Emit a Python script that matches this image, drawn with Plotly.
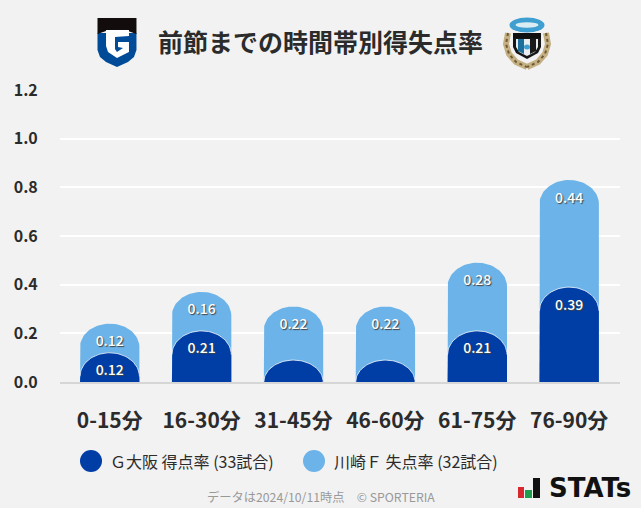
import numpy as np
import plotly.graph_objects as go

W, H = 641, 508
categories = ["0-15分", "16-30分", "31-45分", "46-60分", "61-75分", "76-90分"]
gamba_scored = [0.12, 0.21, 0, 0, 0.21, 0.39]
kawasaki_conceded = [0.12, 0.16, 0.22, 0.22, 0.28, 0.44]
y_ticks = [0.0, 0.2, 0.4, 0.6, 0.8, 1.0, 1.2]
series_names = ["Ｇ大阪 得点率 (33試合)", "川崎Ｆ 失点率 (32試合)"]
title = "前節までの時間帯別得失点率"
footnote = "データは2024/10/11時点　© SPORTERIA"

DARK, LIGHT = "#003da5", "#6bb3e8"
INK = "#2b2b2b"
FONT = "Noto Sans CJK JP"
BAR_W, CAP_H, MIN_H = 0.646, 0.097, 0.09
LABEL_DROP = 0.078


def bar_outline(center, top):
    t = np.linspace(np.pi, 0, 41)
    cap = min(CAP_H, top)
    xs = center + BAR_W / 2 * np.cos(t)
    ys = top - cap + cap * np.sin(t)
    return xs, ys


def px(x):
    return x / W


def py(y):
    return 1 - y / H


def path(pts, close=True):
    s = "M" + " L".join(f"{px(a):.4f},{py(b):.4f}" for a, b in pts)
    return s + (" Z" if close else "")


fig = go.Figure()
idx = list(range(len(categories)))
dark_tops = [max(v, MIN_H) for v in gamba_scored]
light_tops = [d + v for d, v in zip(dark_tops, kawasaki_conceded)]

for tops, color in ((light_tops, LIGHT), (dark_tops, DARK)):
    for i, top in zip(idx, tops):
        xs, ys = bar_outline(i, top)
        fig.add_trace(go.Scatter(
            x=[i - BAR_W / 2, *xs, i + BAR_W / 2], y=[0, *ys, 0], mode="lines", fill="toself",
            fillcolor=color, line=dict(width=0), hoverinfo="skip", showlegend=False))
for i, top in zip(idx, dark_tops):
    xs, ys = bar_outline(i, top)
    fig.add_trace(go.Scatter(x=xs, y=ys, mode="lines", line=dict(color="rgba(255,255,255,0.75)", width=1),
                             hoverinfo="skip", showlegend=False))

label_x, label_y, label_t = [], [], []
for i in idx:
    if gamba_scored[i] > 0:
        label_x.append(i); label_y.append(dark_tops[i] - LABEL_DROP); label_t.append(f"{gamba_scored[i]:.2f}")
    label_x.append(i); label_y.append(light_tops[i] - LABEL_DROP); label_t.append(f"{kawasaki_conceded[i]:.2f}")
fig.add_trace(go.Scatter(
    x=label_x, y=label_y, text=label_t, mode="text", textposition="middle center",
    textfont=dict(family=FONT, size=14, color="white", weight=500, shadow="1px 1px 1px #444"),
    hoverinfo="skip", showlegend=False))

shapes = []


def poly(pts, color):
    shapes.append(dict(type="path", xref="paper", yref="paper", path=path(pts), fillcolor=color, line=dict(width=0)))


def ellipse(cx, cy, rx, ry, color):
    shapes.append(dict(type="circle", xref="paper", yref="paper", x0=px(cx - rx), x1=px(cx + rx),
                       y0=py(cy + ry), y1=py(cy - ry), fillcolor=color, line=dict(width=0)))


# baseline
shapes.append(dict(type="line", xref="paper", yref="paper", x0=px(60), x1=px(620), y0=py(383), y1=py(383),
                   line=dict(color="#d6d6d6", width=2)))

# legend circles
ellipse(91, 461, 11, 11, DARK)
ellipse(314, 461, 11, 11, LIGHT)

# left crest
poly([(97.5, 33), (97.5, 50), (100, 57), (106, 62), (117, 67), (128, 62), (134, 57), (136.5, 50), (136.5, 33)], "#004b97")
poly([(97.5, 18), (136.5, 18), (136.5, 34), (128, 31), (106, 31), (97.5, 34)], "#120c0c")
poly([(106, 30), (129, 30), (129, 36), (115, 37), (115, 49), (117, 52), (123, 48), (118, 47), (118, 42),
      (129, 42), (129, 52), (117, 58), (108, 52), (106, 46)], "white")

# right crest
wreath_l = [(508, 33), (506, 44), (509, 54), (516, 62), (527, 67)]
wreath_r = [(546, 33), (548, 44), (545, 54), (538, 62), (527, 67)]
for w in (wreath_l, wreath_r):
    shapes.append(dict(type="path", xref="paper", yref="paper", path=path(w, close=False),
                       line=dict(color="#c4b083", width=6)))
    shapes.append(dict(type="path", xref="paper", yref="paper", path=path(w, close=False),
                       line=dict(color="#6d5a34", width=2, dash="dot")))
poly([(513, 33), (541, 33), (541, 47), (538, 53), (527, 59), (516, 53), (513, 47)], "#161616")
poly([(516, 39), (538, 39), (538, 47), (535, 52), (527, 56), (519, 52), (516, 47)], "#e9eef0")
poly([(518, 39), (524, 39), (524, 54), (518, 51)], "#1c6e9c")
poly([(530, 39), (536, 39), (536, 51), (530, 54)], "#1a1a1a")
ellipse(527, 25, 17.5, 7.5, "#3f9fd0")
ellipse(527, 25, 11.5, 2.7, "#dcecf3")
poly([(513, 33), (541, 33), (541, 38), (513, 38)], "#101010")
ellipse(527, 47, 3, 2.5, "#3f9fd0")

# STATs mark
poly([(518, 487), (524, 487), (524, 498), (518, 498)], "#d7282f")
poly([(525, 490), (532, 490), (532, 498), (525, 498)], "#1f9d4d")
poly([(533, 478), (540, 478), (540, 498), (533, 498)], "#111111")


def text(x, y, s, size, color, anchor="left", weight=400, family=FONT):
    return dict(xref="paper", yref="paper", x=px(x), y=py(y), text=s, showarrow=False, xanchor=anchor,
                yanchor="middle", font=dict(family=family, size=size, color=color, weight=weight))


annotations = [
    text(320.5, 41, title, 25, INK, "center", 700),
    text(108, 461, series_names[0], 16, INK),
    text(332, 461, series_names[1], 16, INK),
    text(320.5, 497, footnote, 12.25, "#999999", "center"),
    text(547, 488, "STATs", 26, "#111111", "left", 700, "DejaVu Sans"),
]

fig.update_layout(
    width=W, height=H, autosize=False, margin=dict(l=0, r=0, t=0, b=0, autoexpand=False),
    paper_bgcolor="#f2f2f2", plot_bgcolor="#f2f2f2", showlegend=False,
    shapes=shapes, annotations=annotations,
    font=dict(family=FONT, color=INK),
    xaxis=dict(domain=[px(60), px(620)], range=[-0.541, 5.553], tickmode="array", tickvals=idx, ticktext=categories,
               showgrid=False, zeroline=False, showline=False, ticks="outside", ticklen=20, automargin=False,
               tickcolor="rgba(0,0,0,0)", tickfont=dict(family=FONT, size=21, color=INK, weight=700)),
    yaxis=dict(domain=[py(382), py(90)], range=[0, 1.2], tickmode="array", tickvals=y_ticks,
               ticktext=[f"{v:.1f}" for v in y_ticks], showgrid=True, gridcolor="white", gridwidth=2,
               zeroline=False, showline=False, ticks="outside", ticklen=18, automargin=False,
               tickcolor="rgba(0,0,0,0)", tickfont=dict(family=FONT, size=16, color=INK, weight=700)),
)
fig.write_html("out.html", config=dict(displayModeBar=False),
               post_script="document.body.style.margin='0';document.documentElement.style.overflow='hidden';")
